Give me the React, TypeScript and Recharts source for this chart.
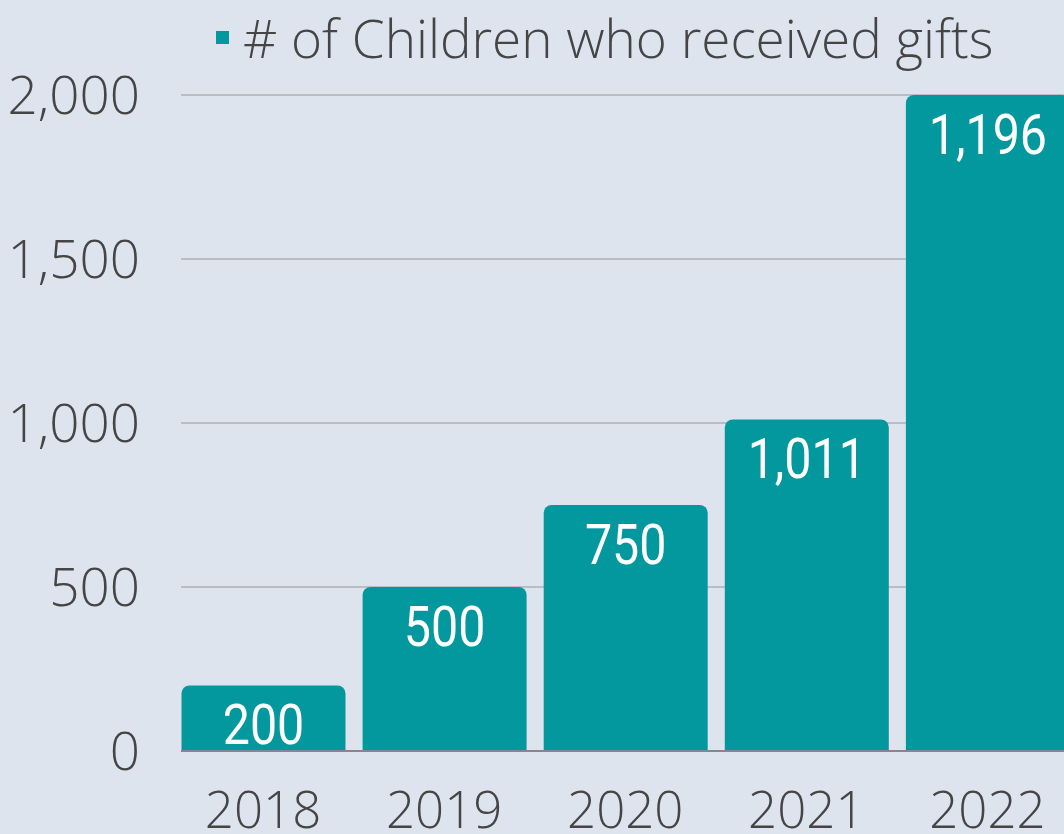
import React from "react";
import {
  BarChart,
  Bar,
  XAxis,
  YAxis,
  CartesianGrid,
} from "recharts";

const years = ["2018", "2019", "2020", "2021", "2022"];
// bar heights as drawn in the picture (the last bar reaches the top gridline)
const barValues = [200, 500, 750, 1011, 2000];
// text printed on each bar
const barLabels = ["200", "500", "750", "1,011", "1,196"];
const yTicks = [0, 500, 1000, 1500, 2000];
const seriesName = "# of Children who received gifts";

const TEAL = "#03979e";
const TEXT = "#454545";
const BG = "#dee4ee";

const data = years.map((year, i) => ({ year, children: barValues[i] }));

function BarLabel(props: any) {
  const { x, y, width, index } = props;
  const cx = Number(x) + Number(width) / 2;
  const ty = Number(y) + 20 + 39;
  return (
    <text
      x={cx}
      y={ty}
      textAnchor="middle"
      fill="#ffffff"
      fontFamily="Roboto, 'Noto Sans', sans-serif"
      fontSize={55}
      transform={`translate(${cx} 0) scale(0.88 1) translate(${-cx} 0)`}
    >
      {barLabels[index]}
    </text>
  );
}

function LegendBox() {
  return (
    <div
      style={{
        position: "absolute",
        top: 10,
        left: 216,
        display: "flex",
        alignItems: "center",
        fontFamily: "'Open Sans', sans-serif",
        fontWeight: 300,
        fontSize: 53,
        lineHeight: "55px",
        color: TEXT,
        whiteSpace: "nowrap",
      }}
    >
      <span
        style={{
          display: "inline-block",
          width: 13,
          height: 13,
          background: TEAL,
          marginRight: 14,
        }}
      />
      <span>{seriesName}</span>
    </div>
  );
}

export default function App() {
  return (
    <div
      style={{
        position: "absolute",
        left: 0,
        top: 0,
        width: 1064,
        height: 834,
        overflow: "hidden",
        background: BG,
      }}
    >
      <BarChart
        width={1078}
        height={834}
        data={data}
        margin={{ top: 95, right: 0, left: 0, bottom: 0 }}
      >
        <CartesianGrid
          vertical={false}
          stroke="#babdc4"
          strokeWidth={2}
        />
        <XAxis
          dataKey="year"
          height={83}
          padding={{ left: -8.5, right: 0 }}
          tickLine={false}
          tickSize={0}
          tickMargin={41}
          axisLine={{ stroke: "#85878c", strokeWidth: 2 }}
          tick={{
            fill: TEXT,
            fontSize: 51,
            fontWeight: 300,
            fontFamily: "'Open Sans', sans-serif",
          }}
        />
        <YAxis
          width={181}
          domain={[0, 2000]}
          ticks={yTicks}
          tickLine={false}
          axisLine={false}
          tickSize={0}
          tickMargin={41}
          tickFormatter={(v: number) => v.toLocaleString("en-US")}
          tick={{
            fill: TEXT,
            fontSize: 53,
            fontWeight: 300,
            fontFamily: "'Open Sans', sans-serif",
          }}
        />
        <Bar
          dataKey="children"
          name={seriesName}
          fill={TEAL}
          barSize={164}
          radius={[8, 8, 0, 0]}
          isAnimationActive={false}
          label={(p: any) => <BarLabel {...p} />}
        />
      </BarChart>
      <LegendBox />
    </div>
  );
}
